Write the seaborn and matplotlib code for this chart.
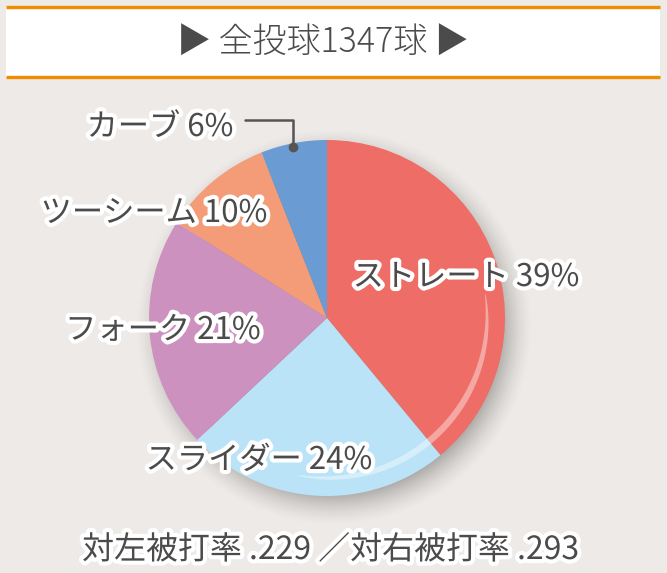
#!/usr/bin/env python3
"""Pitch mix pie chart."""
import numpy as np
import seaborn as sns
import matplotlib.pyplot as plt
import matplotlib.patheffects as pe
from matplotlib.patches import Rectangle, Polygon

sns.set_theme(style="white")
plt.rcParams['font.family'] = ['Noto Sans CJK JP', 'DejaVu Sans']

pitches = ["ストレート", "スライダー", "フォーク", "ツーシーム", "カーブ"]
shares = [39, 24, 21, 10, 6]
colors = ["#EE6D66", "#BBE3F8", "#CD91C0", "#F49C78", "#6A9BD2"]
title = "▶ 全投球1347球 ▶"
footer = "対左被打率 .229 ／対右被打率 .293"

W, H = 667, 573
BG = "#EDEAE7"
INK = "#4B4B4B"
CX, CY, R = 327, H - 318, 178

fig = plt.figure(figsize=(W / 100, H / 100), dpi=100, facecolor=BG)
ax = fig.add_axes([0, 0, 1, 1])
ax.set_facecolor(BG)

# soft drop shadow under the pie
xx, yy = np.meshgrid(np.arange(W) + 0.5, np.arange(H) + 0.5)
d = np.hypot(xx - (CX + 7), yy - (CY - 9))
t = np.clip((R + 22 - d) / 44, 0, 1)
alpha = 0.42 * t ** 1.6
shadow = np.zeros((H, W, 4))
shadow[..., 3] = alpha
ax.imshow(shadow, extent=[0, W, 0, H], origin="lower", zorder=1)

palette = sns.color_palette(colors)
ax.pie(shares, colors=palette, startangle=90, counterclock=False,
       center=(CX, CY), radius=R, wedgeprops=dict(linewidth=0, zorder=2), frame=True)
ax.set_xlim(0, W)
ax.set_ylim(0, H)
ax.set_aspect("equal")
ax.axis("off")

# glossy highlight arc
th = np.linspace(np.radians(-101), np.radians(9), 120)
s = np.linspace(0, 1, th.size)
wid = 6.5 * np.sin(np.pi * s) ** 0.6
r_out = 160 + wid / 2
r_in = 160 - wid / 2
pts = np.vstack([
    np.column_stack([CX + r_out * np.cos(th), CY + r_out * np.sin(th)]),
    np.column_stack([CX + r_in[::-1] * np.cos(th[::-1]), CY + r_in[::-1] * np.sin(th[::-1])]),
])
ax.add_patch(Polygon(pts, closed=True, facecolor="white", alpha=0.4, lw=0, zorder=3))

# header band
ax.add_patch(Rectangle((6, 496), 654, 70, facecolor="white", edgecolor="none", zorder=2))
ax.plot([6, 660], [566, 566], color="#F08C00", lw=2.4, solid_capstyle="butt", zorder=3)
ax.plot([6, 660], [496, 496], color="#F08C00", lw=2.4, solid_capstyle="butt", zorder=3)
ax.text(323, 530, title, ha="center", va="center", fontsize=24.5, color=INK,
        fontweight="light", zorder=4)

stroke = [pe.withStroke(linewidth=6, foreground="white")]
label_pos = {
    "ストレート": (466, 296),
    "スライダー": (259, 113),
    "フォーク": (163, 243),
    "ツーシーム": (154, 360),
    "カーブ": (160, 446),
}
for name, pct in zip(pitches, shares):
    x, y = label_pos[name]
    ax.text(x, y, f"{name} {pct}%", ha="center", va="center", fontsize=22.5,
            color=INK, path_effects=stroke, zorder=6)

# leader line for the small slice
ax.plot([245, 293, 293], [453, 453, 426], color="#555555", lw=1.8, zorder=5)
ax.plot([293], [426], "o", color="#555555", ms=6, zorder=5)

ax.text(331, 23, footer, ha="center", va="center", fontsize=23, color=INK,
        path_effects=stroke, zorder=6)

fig.savefig("out.png", dpi=100, facecolor=BG)
